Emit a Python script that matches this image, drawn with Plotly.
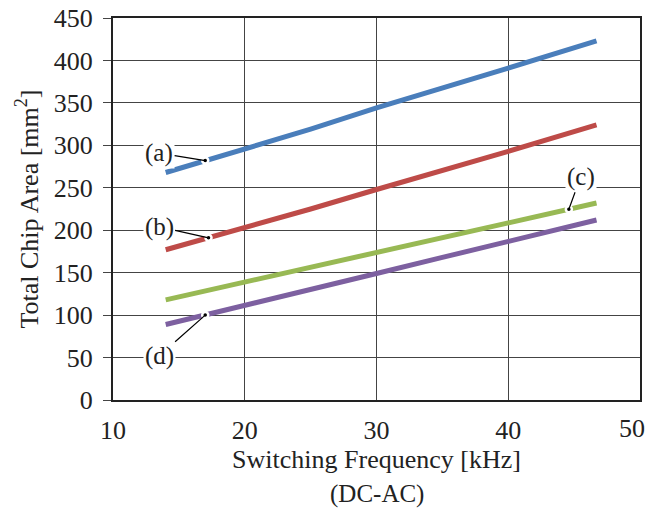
import numpy as np
import plotly.graph_objects as go

freq = [14, 20, 25, 30, 35, 40, 46.7]
area_a = [268, 296, 319, 344, 367, 391, 423]
area_b = [177, 203, 225, 248, 270, 293, 324]
area_c = [118, 139, 157, 174, 192, 209, 232]
area_d = [89, 111, 130, 149, 168, 187, 212]

series = [area_a, area_b, area_c, area_d]
colors = ["#4A7EBB", "#BE4B48", "#98B954", "#7D60A0"]

labels = ["(a)", "(b)", "(c)", "(d)"]
label_x = [13.5, 13.5, 45.5, 13.5]
label_y = [291, 204, 263, 52]
dot_x = [17.0, 17.25, 44.6, 17.0]

x_ticks = [10, 20, 30, 40, 50]
x_ticktext = ["10", "20", "30", "40", ""]
last_x_label = "50"
y_ticks = [0, 50, 100, 150, 200, 250, 300, 350, 400, 450]

FONT = "Liberation Serif, Times New Roman, serif"
FS = 26

fig = go.Figure()
for vals, col in zip(series, colors):
    fig.add_trace(go.Scatter(x=freq, y=vals, mode="lines",
                             line=dict(color=col, width=5), showlegend=False,
                             hoverinfo="skip"))

dot_y = [float(np.interp(dx, freq, s)) for dx, s in zip(dot_x, series)]
fig.add_trace(go.Scatter(x=dot_x, y=dot_y, mode="markers",
                         marker=dict(color="black", size=6,
                                     line=dict(color="white", width=2.5)),
                         showlegend=False, hoverinfo="skip"))

for lab, lx, ly, dx, dy in zip(labels, label_x, label_y, dot_x, dot_y):
    fig.add_annotation(x=dx, y=dy, ax=lx, ay=ly, axref="x", ayref="y",
                       xref="x", yref="y", text=lab, showarrow=True,
                       arrowhead=0, arrowwidth=1.2, arrowcolor="black",
                       bgcolor="white", borderpad=1,
                       font=dict(family=FONT, size=FS - 1, color="#222"))

# last x tick label, pulled inward so it stays inside the picture
fig.add_annotation(x=x_ticks[-1], y=0, xref="x", yref="paper",
                   text=last_x_label, showarrow=False,
                   xanchor="right", yanchor="top", xshift=7, yshift=-12,
                   font=dict(family=FONT, size=FS, color="#222"))

fig.add_annotation(x=0.5, y=-0.205, xref="paper", yref="paper",
                   text="(DC-AC)", showarrow=False, yanchor="top",
                   font=dict(family=FONT, size=FS - 1, color="#222"))

fig.update_xaxes(range=[10, 50], tickvals=x_ticks, ticktext=x_ticktext,
                 showgrid=True, automargin=False,
                 gridcolor="#444", gridwidth=1, showline=True,
                 linecolor="#222", linewidth=2, mirror=True,
                 ticks="", zeroline=False, ticklabelstandoff=6,
                 title=dict(text="Switching Frequency [kHz]", standoff=2,
                            font=dict(family=FONT, size=FS, color="#222")),
                 tickfont=dict(family=FONT, size=FS, color="#222"))
fig.update_yaxes(range=[0, 450], tickvals=y_ticks, showgrid=True,
                 automargin=False,
                 gridcolor="#444", gridwidth=1, showline=True,
                 linecolor="#222", linewidth=2, mirror=True,
                 ticks="outside", ticklen=8, tickcolor="#444",
                 zeroline=False, ticklabelstandoff=5,
                 title=dict(text="Total Chip Area [mm<sup>2</sup>]", standoff=8,
                            font=dict(family=FONT, size=FS, color="#222")),
                 tickfont=dict(family=FONT, size=FS, color="#222"))

fig.update_layout(width=649, height=509,
                  margin=dict(l=113, r=9, t=18, b=109),
                  plot_bgcolor="white", paper_bgcolor="white")

fig.write_html("out.html", config={"displayModeBar": False},
               post_script="document.body.style.margin='0';"
                           "document.body.style.overflow='hidden';")
